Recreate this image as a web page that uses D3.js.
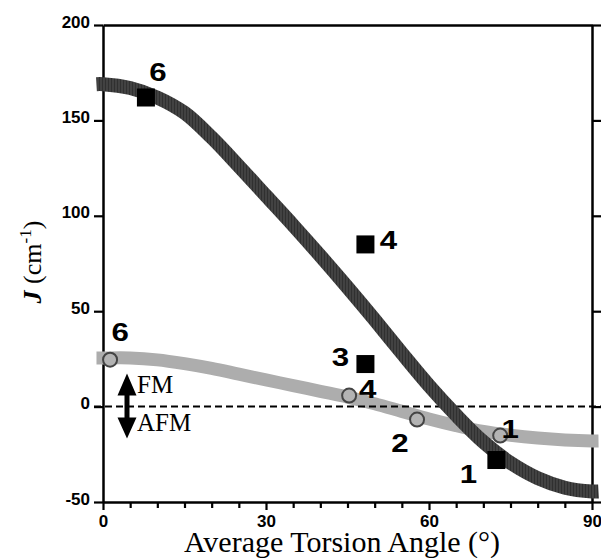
<!DOCTYPE html>
<html lang="en">
<head>
  <meta charset="UTF-8">
  <title>J vs Average Torsion Angle</title>
  <style>
    body { margin: 0; background: #fff; }
    .tick text { font-family: "Liberation Sans", Arial, sans-serif; font-weight: bold; font-size: 17px; fill: #000; }
    .num { font-family: "Liberation Sans", Arial, sans-serif; font-weight: bold; font-size: 25px; fill: #000; }
    .serif { font-family: "Liberation Serif", "Times New Roman", serif; fill: #000; }
  </style>
</head>
<body>
  <div id="chart"></div>

  <script src="https://d3js.org/d3.v7.min.js"></script>
  <script>
    const width = 601, height = 558;

    // curve samples (angle in degrees, J in cm-1)
    const curveAngles = [-1.2, 0, 5, 10, 15, 20, 25, 30, 35, 40, 45, 50, 55, 60, 65, 70, 75, 80, 85, 90, 91.2];
    const darkJ  = [169, 169, 167, 162, 154, 141, 126, 110.5, 95, 79, 62.5, 45.5, 28, 11, -4.5, -18.5, -29.5, -37.5, -42.5, -44.5, -44.5];
    const lightJ = [25.5, 25.5, 25.5, 24.5, 22.5, 20, 17, 14, 11, 8, 5, 1.5, -2.5, -6.5, -10, -13, -15, -16.5, -17.5, -18, -18];

    // filled squares
    const squareAngle = [7.9, 48.3, 48.3, 72.4];
    const squareJ     = [162, 85, 22.3, -28];
    const squareLabel = ["6", "4", "3", "1"];

    // open circles
    const circleAngle = [1.3, 45.3, 57.8, 73.1];
    const circleJ     = [24.6, 5.8, -6.8, -15.2];
    const circleLabel = ["6", "4", "2", "1"];

    // tick values
    const yTicks = [-50, 0, 50, 100, 150, 200];
    const xTicks = d3.range(0, 91, 5);
    const xLabelTicks = [0, 30, 60, 90];

    // label offsets (px) from the marker centres
    const squareLabelOffset = [[12, -17], [23, 4.5], [-25, 1.5], [-28, 22.5]];
    const circleLabelOffset = [[10, -19], [18.5, 2], [-17, 32], [10, 2]];

    const svg = d3.select("#chart").append("svg")
      .attr("width", width)
      .attr("height", height);

    svg.append("rect").attr("width", width).attr("height", height).attr("fill", "#fff");

    const x = d3.scaleLinear().domain([0, 90]).range([103, 592]);
    const y = d3.scaleLinear().domain([-50, 200]).range([502, 25]);

    // striped texture for the dark band
    const defs = svg.append("defs");
    const pat = defs.append("pattern")
      .attr("id", "stripes")
      .attr("patternUnits", "userSpaceOnUse")
      .attr("width", 3).attr("height", 10);
    pat.append("rect").attr("width", 3).attr("height", 10).attr("fill", "#424242");
    pat.append("rect").attr("width", 1).attr("height", 10).attr("fill", "#303030");

    // axes
    function styleAxis(g) {
      g.selectAll(".domain").attr("stroke", "#000").attr("stroke-width", 2.5);
      g.selectAll(".tick line").attr("stroke", "#000").attr("stroke-width", 2.2);
    }

    svg.append("g")
      .attr("transform", `translate(${x(0)},0)`)
      .call(d3.axisLeft(y).tickValues(yTicks).tickSize(9).tickSizeOuter(0).tickPadding(4)
        .tickFormat(d => String(d)))
      .call(styleAxis)
      .call(g => g.selectAll(".tick text").attr("dy", "2px"));

    svg.append("g")
      .attr("transform", `translate(${x(90)},0)`)
      .call(d3.axisRight(y).tickValues(yTicks).tickSize(9).tickSizeOuter(0).tickFormat(""))
      .call(styleAxis);

    svg.append("g")
      .attr("transform", `translate(0,${y(200)})`)
      .call(d3.axisTop(x).tickValues([]).tickSizeOuter(0))
      .call(styleAxis);

    const xAxis = svg.append("g")
      .attr("transform", `translate(0,${y(-50)})`)
      .call(d3.axisBottom(x).tickValues(xTicks).tickSize(6).tickSizeOuter(0)
        .tickFormat(d => xLabelTicks.includes(d) ? d : ""))
      .call(styleAxis);
    xAxis.selectAll(".tick line").attr("y2", d => d % 30 === 0 ? 8 : 6);
    xAxis.selectAll(".tick text").attr("y", 13).attr("font-size", "15px");

    // curves
    const line = d3.line().curve(d3.curveCatmullRom.alpha(0.5));

    svg.append("path")
      .attr("d", line(curveAngles.map((a, i) => [x(a), y(lightJ[i])])))
      .attr("fill", "none")
      .attr("stroke", "#adadad")
      .attr("stroke-width", 13);

    // zero line
    svg.append("line")
      .attr("x1", x(0) - 9).attr("x2", x(90) + 9)
      .attr("y1", y(0)).attr("y2", y(0))
      .attr("stroke", "#000")
      .attr("stroke-width", 2)
      .attr("stroke-dasharray", "7,4");

    svg.append("path")
      .attr("d", line(curveAngles.map((a, i) => [x(a), y(darkJ[i])])))
      .attr("fill", "none")
      .attr("stroke", "url(#stripes)")
      .attr("stroke-width", 14);

    // markers
    svg.selectAll(".sq")
      .data(squareAngle)
      .join("rect")
      .attr("class", "sq")
      .attr("x", d => x(d) - 9)
      .attr("y", (d, i) => y(squareJ[i]) - 9)
      .attr("width", 18).attr("height", 18)
      .attr("fill", "#000");

    svg.selectAll(".ci")
      .data(circleAngle)
      .join("circle")
      .attr("class", "ci")
      .attr("cx", d => x(d))
      .attr("cy", (d, i) => y(circleJ[i]))
      .attr("r", 7)
      .attr("fill", "#b3b3b3")
      .attr("stroke", "#444")
      .attr("stroke-width", 2);

    // marker labels
    function addLabels(angles, values, labels, offsets) {
      svg.append("g").selectAll("text")
        .data(labels)
        .join("text")
        .attr("class", "num")
        .attr("text-anchor", "middle")
        .attr("transform", (d, i) =>
          `translate(${x(angles[i]) + offsets[i][0]},${y(values[i]) + offsets[i][1]}) scale(1.25,1)`)
        .text(d => d);
    }
    addLabels(squareAngle, squareJ, squareLabel, squareLabelOffset);
    addLabels(circleAngle, circleJ, circleLabel, circleLabelOffset);

    // FM / AFM double arrow
    const ax = 127, y0 = y(0);
    svg.append("path")
      .attr("d", `M${ax},${y0 - 33} L${ax + 9.5},${y0 - 11} L${ax + 2.5},${y0 - 11} L${ax + 2.5},${y0 + 11}
                  L${ax + 9.5},${y0 + 11} L${ax},${y0 + 32} L${ax - 9.5},${y0 + 11} L${ax - 2.5},${y0 + 11}
                  L${ax - 2.5},${y0 - 11} L${ax - 9.5},${y0 - 11} Z`)
      .attr("fill", "#000");

    svg.append("text").attr("class", "serif")
      .attr("x", 137).attr("y", y0 - 14)
      .style("font-size", "25px")
      .text("FM");
    svg.append("text").attr("class", "serif")
      .attr("x", 137).attr("y", y0 + 24)
      .style("font-size", "25px")
      .text("AFM");

    // axis titles
    svg.append("text").attr("class", "serif")
      .attr("x", 342).attr("y", 552)
      .attr("text-anchor", "middle")
      .style("font-size", "30px")
      .text("Average Torsion Angle (°)");

    const yt = svg.append("text").attr("class", "serif")
      .attr("transform", "translate(41,262) rotate(-90)")
      .attr("text-anchor", "middle")
      .style("font-size", "26px");
    yt.append("tspan").style("font-weight", "bold").style("font-style", "italic").text("J");
    yt.append("tspan").text(" (cm");
    yt.append("tspan").attr("dy", "-10").style("font-size", "17px").text("-1");
    yt.append("tspan").attr("dy", "10").text(")");
  </script>
</body>
</html>
